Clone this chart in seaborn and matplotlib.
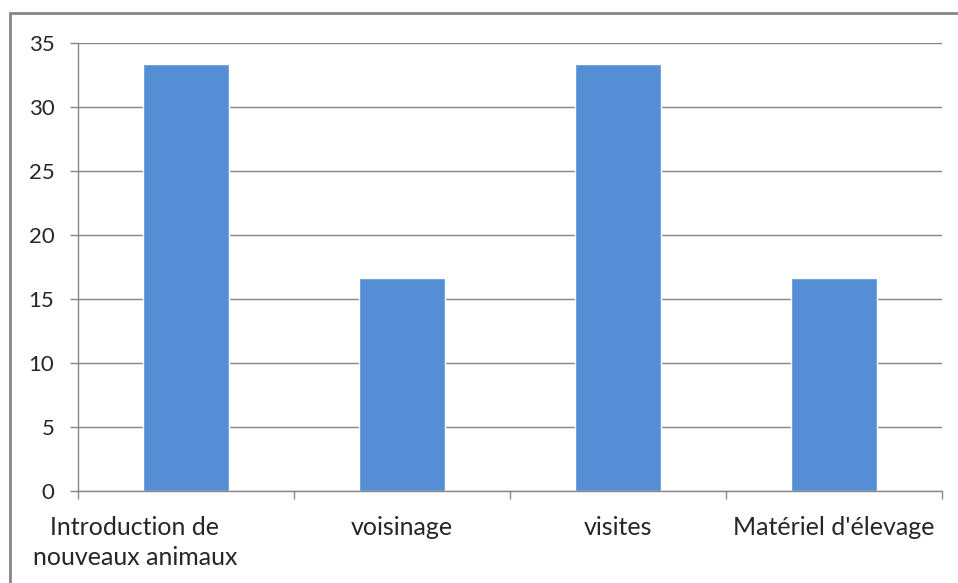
import matplotlib
matplotlib.use("Agg")
import matplotlib.pyplot as plt
import matplotlib.transforms as mtransforms
from matplotlib.patches import Rectangle
import seaborn as sns
import pandas as pd

# Data
categories = ["Introduction de\nnouveaux animaux", "voisinage", "visites", "Matériel d'élevage"]
values = [33.33, 16.67, 33.33, 16.67]
y_ticks = [0, 5, 10, 15, 20, 25, 30, 35]

BAR_COLOR = "#558ED5"
GRID_COLOR = "#868686"
TEXT_COLOR = "#262626"

sns.set_theme(style="white")
plt.rcParams["font.family"] = ["Lato", "DejaVu Sans"]

W, H = 958, 583
fig = plt.figure(figsize=(W / 100, H / 100), dpi=100)
ax = fig.add_axes([78 / W, 92 / H, (942 - 78) / W, (491 - 43) / H])

df = pd.DataFrame({"cat": categories, "val": values})
sns.barplot(data=df, x="cat", y="val", color=BAR_COLOR, saturation=1,
            width=0.4, ax=ax)

ax.set_xlim(-0.5, len(categories) - 0.5)
ax.set_ylim(0, 35)
ax.set_yticks(y_ticks)
ax.set_yticklabels([str(t) for t in y_ticks])
ax.set_xlabel("")
ax.set_ylabel("")

# Gridlines behind bars
ax.set_axisbelow(True)
ax.yaxis.grid(True, color=GRID_COLOR, linewidth=1)
ax.xaxis.grid(False)

for side in ("top", "right"):
    ax.spines[side].set_visible(False)
for side in ("left", "bottom"):
    ax.spines[side].set_color(GRID_COLOR)
    ax.spines[side].set_linewidth(1)

# Category labels centered on bars, tick marks at category boundaries
ax.set_xticks([i - 0.5 for i in range(len(categories) + 1)])
ax.set_xticklabels([])
ax.set_xticks(list(range(len(categories))), minor=True)
ax.set_xticklabels(categories, minor=True)
ax.tick_params(axis="x", which="major", direction="out", length=5.5,
               width=1, color=GRID_COLOR, bottom=True)
ax.tick_params(axis="x", which="minor", length=0, pad=18,
               labelsize=18, labelcolor=TEXT_COLOR)
ax.tick_params(axis="y", direction="out", length=6, width=1,
               color=GRID_COLOR, left=True, pad=11,
               labelsize=16, labelcolor=TEXT_COLOR)

for lbl in ax.get_xticklabels(minor=True):
    lbl.set_linespacing(1.35)
first = ax.get_xticklabels(minor=True)[0]
first.set_transform(first.get_transform() +
                    mtransforms.ScaledTranslation(-0.51, 0, fig.dpi_scale_trans))

# Outer chart frame
fig.add_artist(Rectangle((9.5 / W, -0.1), 2.0, (H - 13.0) / H + 0.1,
                         transform=fig.transFigure, fill=False,
                         edgecolor="#878787", linewidth=2))

fig.savefig("out.png", dpi=100, facecolor="white")
